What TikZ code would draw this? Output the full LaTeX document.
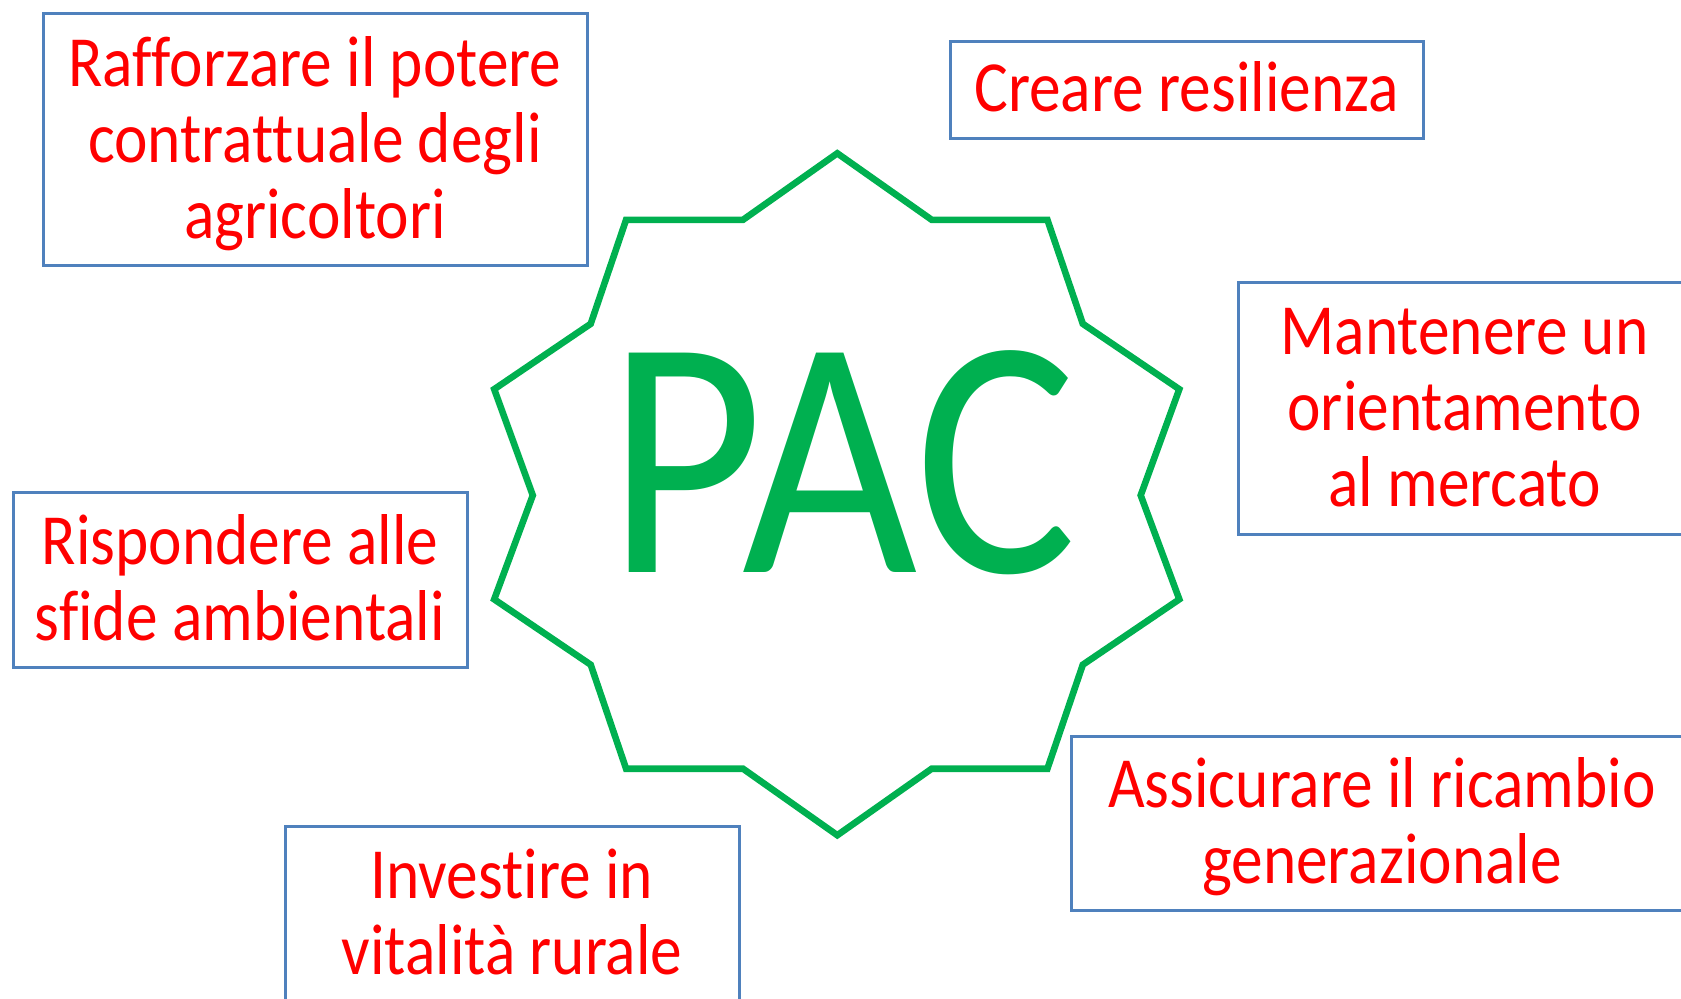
\documentclass[tikz,border=0pt]{standalone}
\usepackage{fontspec}
\setmainfont{Carlito}
\newfontfamily\boxfont[FakeStretch=0.88,Ligatures=NoCommon]{Carlito}
\newfontfamily\pacfont[FakeStretch=0.885,Ligatures=NoCommon]{Carlito}
\usetikzlibrary{fit}
\definecolor{boxblue}{HTML}{4F81BD}
\definecolor{txtred}{HTML}{FF0000}
\definecolor{pacgreen}{HTML}{00B050}
\newcommand{\lnstrut}{\rule[-9pt]{0pt}{38pt}}
\begin{document}
\begin{tikzpicture}[x=0.5pt,y=-0.5pt,
  goalbox/.style={draw=boxblue, line width=1.5pt, inner sep=0pt},
  goaltext/.style={anchor=north, inner sep=0pt, align=center, text=txtred,
    font=\fontsize{36}{38}\selectfont\boxfont},
  starline/.style={draw=pacgreen, line width=3.3pt, line join=miter}
]
\useasboundingbox (0,0) rectangle (1681,998);

% boxes
\node[goalbox, fit={(43,13) (587,265)}] (b1) {};
\node[goalbox, fit={(950,41) (1423,138)}] (b2) {};
\node[goalbox, fit={(1238,282) (1692,534)}] (b3) {};
\node[goalbox, fit={(13,492) (467,667)}] (b4) {};
\node[goalbox, fit={(1071,736) (1694,910)}] (b5) {};
\node[goalbox, fit={(285,826) (739,1003)}] (b6) {};

% texts
\node[goaltext] (t1) at (315,28) {\lnstrut Rafforzare il potere\\\lnstrut contrattuale degli\\\lnstrut agricoltori};
\node[goaltext] (t2) at (1186.5,53.5) {\lnstrut Creare resilienza};
\node[goaltext] (t3) at (1464.5,296) {\lnstrut Mantenere un\\\lnstrut orientamento\\\lnstrut al mercato};
\node[goaltext] (t4) at (240,506) {\lnstrut Rispondere alle\\\lnstrut sfide ambientali};
\node[goaltext] (t5) at (1382,749) {\lnstrut Assicurare il ricambio\\\lnstrut generazionale};
\node[goaltext] (t6) at (512,840) {\lnstrut Investire in\\\lnstrut vitalità rurale};

% star
\draw[starline] (837.3,153.3) -- (931.7,219.8) -- (1047.4,219.8) -- (1082.8,323.8)
  -- (1179.3,389.2) -- (1140.7,495.3) -- (1179.3,599.3) -- (1082.8,664.7)
  -- (1047.4,768.7) -- (931.7,768.7) -- (837.3,835.2) -- (743.0,768.7)
  -- (626.1,768.7) -- (590.7,664.7) -- (494.2,599.3) -- (532.8,495.3)
  -- (494.2,389.2) -- (590.7,323.8) -- (626.1,219.8) -- (743.0,219.8) -- cycle;

\node[anchor=base, inner sep=0pt, text=pacgreen,
  font=\fontsize{171}{171}\selectfont\pacfont] (pac) at (842,572.5) {PAC};
\end{tikzpicture}
\end{document}
